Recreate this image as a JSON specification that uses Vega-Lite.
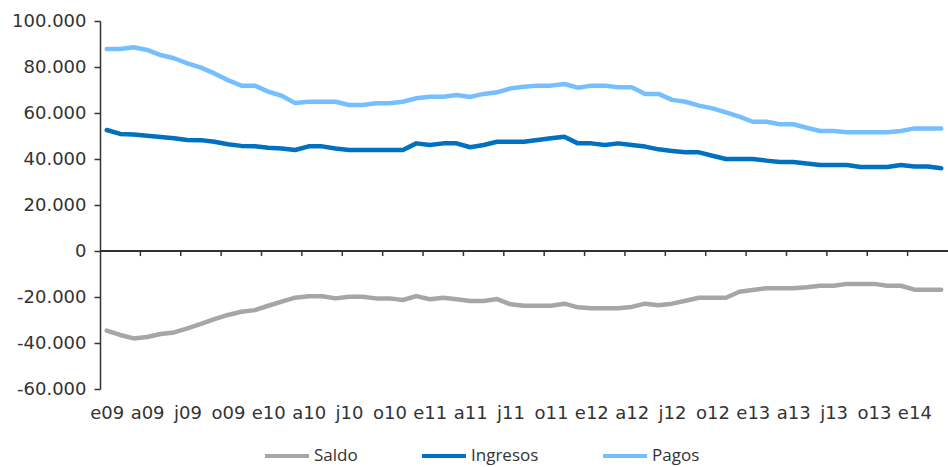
{
  "$schema": "https://vega.github.io/schema/vega-lite/v6.json",
  "width": 848,
  "height": 368,
  "autosize": {"type": "none"},
  "padding": {"left": 100, "top": 21, "right": 0, "bottom": 78},
  "background": "white",
  "config": {"view": {"stroke": null}, "font": "DejaVu Sans"},
  "datasets": {
    "tabla": [
      {"mes":"2009-01","serie":"Pagos","valor":87800},{"mes":"2009-02","serie":"Pagos","valor":87800},{"mes":"2009-03","serie":"Pagos","valor":88600},{"mes":"2009-04","serie":"Pagos","valor":87400},{"mes":"2009-05","serie":"Pagos","valor":85200},{"mes":"2009-06","serie":"Pagos","valor":83800},{"mes":"2009-07","serie":"Pagos","valor":81600},{"mes":"2009-08","serie":"Pagos","valor":79700},{"mes":"2009-09","serie":"Pagos","valor":77200},{"mes":"2009-10","serie":"Pagos","valor":74300},{"mes":"2009-11","serie":"Pagos","valor":71900},{"mes":"2009-12","serie":"Pagos","valor":71900},
      {"mes":"2010-01","serie":"Pagos","valor":69300},{"mes":"2010-02","serie":"Pagos","valor":67500},{"mes":"2010-03","serie":"Pagos","valor":64300},{"mes":"2010-04","serie":"Pagos","valor":64900},{"mes":"2010-05","serie":"Pagos","valor":64900},{"mes":"2010-06","serie":"Pagos","valor":64900},{"mes":"2010-07","serie":"Pagos","valor":63500},{"mes":"2010-08","serie":"Pagos","valor":63500},{"mes":"2010-09","serie":"Pagos","valor":64200},{"mes":"2010-10","serie":"Pagos","valor":64200},{"mes":"2010-11","serie":"Pagos","valor":64900},{"mes":"2010-12","serie":"Pagos","valor":66400},
      {"mes":"2011-01","serie":"Pagos","valor":67100},{"mes":"2011-02","serie":"Pagos","valor":67100},{"mes":"2011-03","serie":"Pagos","valor":67800},{"mes":"2011-04","serie":"Pagos","valor":67000},{"mes":"2011-05","serie":"Pagos","valor":68300},{"mes":"2011-06","serie":"Pagos","valor":69000},{"mes":"2011-07","serie":"Pagos","valor":70700},{"mes":"2011-08","serie":"Pagos","valor":71400},{"mes":"2011-09","serie":"Pagos","valor":71900},{"mes":"2011-10","serie":"Pagos","valor":71900},{"mes":"2011-11","serie":"Pagos","valor":72600},{"mes":"2011-12","serie":"Pagos","valor":71000},
      {"mes":"2012-01","serie":"Pagos","valor":71900},{"mes":"2012-02","serie":"Pagos","valor":71900},{"mes":"2012-03","serie":"Pagos","valor":71200},{"mes":"2012-04","serie":"Pagos","valor":71200},{"mes":"2012-05","serie":"Pagos","valor":68300},{"mes":"2012-06","serie":"Pagos","valor":68300},{"mes":"2012-07","serie":"Pagos","valor":65700},{"mes":"2012-08","serie":"Pagos","valor":64900},{"mes":"2012-09","serie":"Pagos","valor":63200},{"mes":"2012-10","serie":"Pagos","valor":62000},{"mes":"2012-11","serie":"Pagos","valor":60300},{"mes":"2012-12","serie":"Pagos","valor":58400},
      {"mes":"2013-01","serie":"Pagos","valor":56200},{"mes":"2013-02","serie":"Pagos","valor":56200},{"mes":"2013-03","serie":"Pagos","valor":55100},{"mes":"2013-04","serie":"Pagos","valor":55100},{"mes":"2013-05","serie":"Pagos","valor":53600},{"mes":"2013-06","serie":"Pagos","valor":52200},{"mes":"2013-07","serie":"Pagos","valor":52200},{"mes":"2013-08","serie":"Pagos","valor":51600},{"mes":"2013-09","serie":"Pagos","valor":51600},{"mes":"2013-10","serie":"Pagos","valor":51600},{"mes":"2013-11","serie":"Pagos","valor":51600},{"mes":"2013-12","serie":"Pagos","valor":52200},
      {"mes":"2014-01","serie":"Pagos","valor":53300},{"mes":"2014-02","serie":"Pagos","valor":53300},{"mes":"2014-03","serie":"Pagos","valor":53300},

      {"mes":"2009-01","serie":"Ingresos","valor":52600},{"mes":"2009-02","serie":"Ingresos","valor":50900},{"mes":"2009-03","serie":"Ingresos","valor":50700},{"mes":"2009-04","serie":"Ingresos","valor":50100},{"mes":"2009-05","serie":"Ingresos","valor":49600},{"mes":"2009-06","serie":"Ingresos","valor":49000},{"mes":"2009-07","serie":"Ingresos","valor":48300},{"mes":"2009-08","serie":"Ingresos","valor":48200},{"mes":"2009-09","serie":"Ingresos","valor":47500},{"mes":"2009-10","serie":"Ingresos","valor":46400},{"mes":"2009-11","serie":"Ingresos","valor":45700},{"mes":"2009-12","serie":"Ingresos","valor":45500},
      {"mes":"2010-01","serie":"Ingresos","valor":44900},{"mes":"2010-02","serie":"Ingresos","valor":44600},{"mes":"2010-03","serie":"Ingresos","valor":43900},{"mes":"2010-04","serie":"Ingresos","valor":45500},{"mes":"2010-05","serie":"Ingresos","valor":45500},{"mes":"2010-06","serie":"Ingresos","valor":44600},{"mes":"2010-07","serie":"Ingresos","valor":43900},{"mes":"2010-08","serie":"Ingresos","valor":43900},{"mes":"2010-09","serie":"Ingresos","valor":43900},{"mes":"2010-10","serie":"Ingresos","valor":43900},{"mes":"2010-11","serie":"Ingresos","valor":43900},{"mes":"2010-12","serie":"Ingresos","valor":46800},
      {"mes":"2011-01","serie":"Ingresos","valor":46100},{"mes":"2011-02","serie":"Ingresos","valor":46800},{"mes":"2011-03","serie":"Ingresos","valor":46800},{"mes":"2011-04","serie":"Ingresos","valor":45100},{"mes":"2011-05","serie":"Ingresos","valor":46100},{"mes":"2011-06","serie":"Ingresos","valor":47500},{"mes":"2011-07","serie":"Ingresos","valor":47500},{"mes":"2011-08","serie":"Ingresos","valor":47500},{"mes":"2011-09","serie":"Ingresos","valor":48300},{"mes":"2011-10","serie":"Ingresos","valor":49000},{"mes":"2011-11","serie":"Ingresos","valor":49700},{"mes":"2011-12","serie":"Ingresos","valor":46800},
      {"mes":"2012-01","serie":"Ingresos","valor":46800},{"mes":"2012-02","serie":"Ingresos","valor":46100},{"mes":"2012-03","serie":"Ingresos","valor":46800},{"mes":"2012-04","serie":"Ingresos","valor":46100},{"mes":"2012-05","serie":"Ingresos","valor":45400},{"mes":"2012-06","serie":"Ingresos","valor":44200},{"mes":"2012-07","serie":"Ingresos","valor":43500},{"mes":"2012-08","serie":"Ingresos","valor":42900},{"mes":"2012-09","serie":"Ingresos","valor":42900},{"mes":"2012-10","serie":"Ingresos","valor":41400},{"mes":"2012-11","serie":"Ingresos","valor":40000},{"mes":"2012-12","serie":"Ingresos","valor":40000},
      {"mes":"2013-01","serie":"Ingresos","valor":40000},{"mes":"2013-02","serie":"Ingresos","valor":39300},{"mes":"2013-03","serie":"Ingresos","valor":38700},{"mes":"2013-04","serie":"Ingresos","valor":38700},{"mes":"2013-05","serie":"Ingresos","valor":38000},{"mes":"2013-06","serie":"Ingresos","valor":37400},{"mes":"2013-07","serie":"Ingresos","valor":37400},{"mes":"2013-08","serie":"Ingresos","valor":37400},{"mes":"2013-09","serie":"Ingresos","valor":36500},{"mes":"2013-10","serie":"Ingresos","valor":36500},{"mes":"2013-11","serie":"Ingresos","valor":36500},{"mes":"2013-12","serie":"Ingresos","valor":37400},
      {"mes":"2014-01","serie":"Ingresos","valor":36700},{"mes":"2014-02","serie":"Ingresos","valor":36700},{"mes":"2014-03","serie":"Ingresos","valor":36000},

      {"mes":"2009-01","serie":"Saldo","valor":-34600},{"mes":"2009-02","serie":"Saldo","valor":-36500},{"mes":"2009-03","serie":"Saldo","valor":-38000},{"mes":"2009-04","serie":"Saldo","valor":-37400},{"mes":"2009-05","serie":"Saldo","valor":-36100},{"mes":"2009-06","serie":"Saldo","valor":-35400},{"mes":"2009-07","serie":"Saldo","valor":-33600},{"mes":"2009-08","serie":"Saldo","valor":-31700},{"mes":"2009-09","serie":"Saldo","valor":-29600},{"mes":"2009-10","serie":"Saldo","valor":-27800},{"mes":"2009-11","serie":"Saldo","valor":-26400},{"mes":"2009-12","serie":"Saldo","valor":-25700},
      {"mes":"2010-01","serie":"Saldo","valor":-23800},{"mes":"2010-02","serie":"Saldo","valor":-22000},{"mes":"2010-03","serie":"Saldo","valor":-20300},{"mes":"2010-04","serie":"Saldo","valor":-19700},{"mes":"2010-05","serie":"Saldo","valor":-19700},{"mes":"2010-06","serie":"Saldo","valor":-20600},{"mes":"2010-07","serie":"Saldo","valor":-19900},{"mes":"2010-08","serie":"Saldo","valor":-19900},{"mes":"2010-09","serie":"Saldo","valor":-20600},{"mes":"2010-10","serie":"Saldo","valor":-20600},{"mes":"2010-11","serie":"Saldo","valor":-21300},{"mes":"2010-12","serie":"Saldo","valor":-19600},
      {"mes":"2011-01","serie":"Saldo","valor":-21000},{"mes":"2011-02","serie":"Saldo","valor":-20300},{"mes":"2011-03","serie":"Saldo","valor":-21000},{"mes":"2011-04","serie":"Saldo","valor":-21700},{"mes":"2011-05","serie":"Saldo","valor":-21700},{"mes":"2011-06","serie":"Saldo","valor":-20900},{"mes":"2011-07","serie":"Saldo","valor":-23200},{"mes":"2011-08","serie":"Saldo","valor":-23800},{"mes":"2011-09","serie":"Saldo","valor":-23800},{"mes":"2011-10","serie":"Saldo","valor":-23800},{"mes":"2011-11","serie":"Saldo","valor":-22900},{"mes":"2011-12","serie":"Saldo","valor":-24500},
      {"mes":"2012-01","serie":"Saldo","valor":-24900},{"mes":"2012-02","serie":"Saldo","valor":-24900},{"mes":"2012-03","serie":"Saldo","valor":-24900},{"mes":"2012-04","serie":"Saldo","valor":-24300},{"mes":"2012-05","serie":"Saldo","valor":-22900},{"mes":"2012-06","serie":"Saldo","valor":-23600},{"mes":"2012-07","serie":"Saldo","valor":-22900},{"mes":"2012-08","serie":"Saldo","valor":-21600},{"mes":"2012-09","serie":"Saldo","valor":-20300},{"mes":"2012-10","serie":"Saldo","valor":-20300},{"mes":"2012-11","serie":"Saldo","valor":-20300},{"mes":"2012-12","serie":"Saldo","valor":-17700},
      {"mes":"2013-01","serie":"Saldo","valor":-17000},{"mes":"2013-02","serie":"Saldo","valor":-16200},{"mes":"2013-03","serie":"Saldo","valor":-16200},{"mes":"2013-04","serie":"Saldo","valor":-16200},{"mes":"2013-05","serie":"Saldo","valor":-15800},{"mes":"2013-06","serie":"Saldo","valor":-15100},{"mes":"2013-07","serie":"Saldo","valor":-15100},{"mes":"2013-08","serie":"Saldo","valor":-14300},{"mes":"2013-09","serie":"Saldo","valor":-14300},{"mes":"2013-10","serie":"Saldo","valor":-14300},{"mes":"2013-11","serie":"Saldo","valor":-15100},{"mes":"2013-12","serie":"Saldo","valor":-15100},
      {"mes":"2014-01","serie":"Saldo","valor":-16800},{"mes":"2014-02","serie":"Saldo","valor":-16800},{"mes":"2014-03","serie":"Saldo","valor":-16800}
    ]
  },
  "data": {"name": "tabla"},
  "layer": [
    {
      "mark": {"type": "line", "strokeWidth": 4.5, "strokeCap": "round", "strokeJoin": "round"},
      "encoding": {
        "x": {
          "field": "mes",
          "type": "ordinal",
          "scale": {"type": "point", "padding": 0.5},
          "axis": {
            "title": null,
            "values": ["2009-01","2009-04","2009-07","2009-10","2010-01","2010-04","2010-07","2010-10","2011-01","2011-04","2011-07","2011-10","2012-01","2012-04","2012-07","2012-10","2013-01","2013-04","2013-07","2013-10","2014-01"],
            "labelExpr": "['e','f','m','a','m','j','j','a','s','o','n','d'][toNumber(slice(datum.value, 5, 7)) - 1] + slice(datum.value, 2, 4)",
            "domain": false,
            "ticks": false,
            "labelPadding": 15,
            "labelAngle": 0,
            "labelFont": "DejaVu Sans",
            "labelFontSize": 18,
            "labelColor": "#333333",
            "labelOverlap": false,
            "grid": false
          }
        },
        "y": {
          "field": "valor",
          "type": "quantitative",
          "scale": {"domain": [-60000, 100000], "nice": false, "zero": false},
          "axis": {
            "title": null,
            "values": [-60000, -40000, -20000, 0, 20000, 40000, 60000, 80000, 100000],
            "labelExpr": "(datum.value < 0 ? '-' : '') + replace(format(abs(datum.value), ','), ',', '.')",
            "grid": false,
            "domainColor": "#333333",
            "domainWidth": 1.5,
            "tickColor": "#333333",
            "tickWidth": 1.5,
            "tickSize": 6,
            "labelPadding": 8,
            "labelFont": "DejaVu Sans",
            "labelFontSize": 18,
            "labelColor": "#333333"
          }
        },
        "color": {
          "field": "serie",
          "type": "nominal",
          "scale": {"domain": ["Saldo", "Ingresos", "Pagos"], "range": ["#A6A6A6", "#0070C0", "#75BFFF"]},
          "legend": {
            "title": null,
            "orient": "none",
            "legendX": 163,
            "legendY": 411,
            "direction": "horizontal",
            "symbolType": "stroke",
            "symbolSize": 1936,
            "symbolStrokeWidth": 4,
            "labelFont": "Open Sans",
            "labelFontSize": 17,
            "labelColor": "#333333",
            "labelOffset": 3,
            "columnPadding": 56
          }
        }
      }
    },
    {
      "mark": {"type": "rule", "color": "#333333", "strokeWidth": 1.5},
      "encoding": {"y": {"datum": 0}}
    },
    {
      "transform": [
        {"filter": {"field": "serie", "equal": "Saldo"}},
        {"filter": {"field": "mes", "oneOf": ["2009-04","2009-07","2009-10","2010-01","2010-04","2010-07","2010-10","2011-01","2011-04","2011-07","2011-10","2012-01","2012-04","2012-07","2012-10","2013-01","2013-04","2013-07","2013-10","2014-01"]}}
      ],
      "mark": {"type": "rule", "color": "#333333", "strokeWidth": 1.5, "xOffset": -6.73},
      "encoding": {
        "x": {"field": "mes", "type": "ordinal"},
        "y": {"datum": 0},
        "y2": {"datum": -2200}
      }
    }
  ]
}
